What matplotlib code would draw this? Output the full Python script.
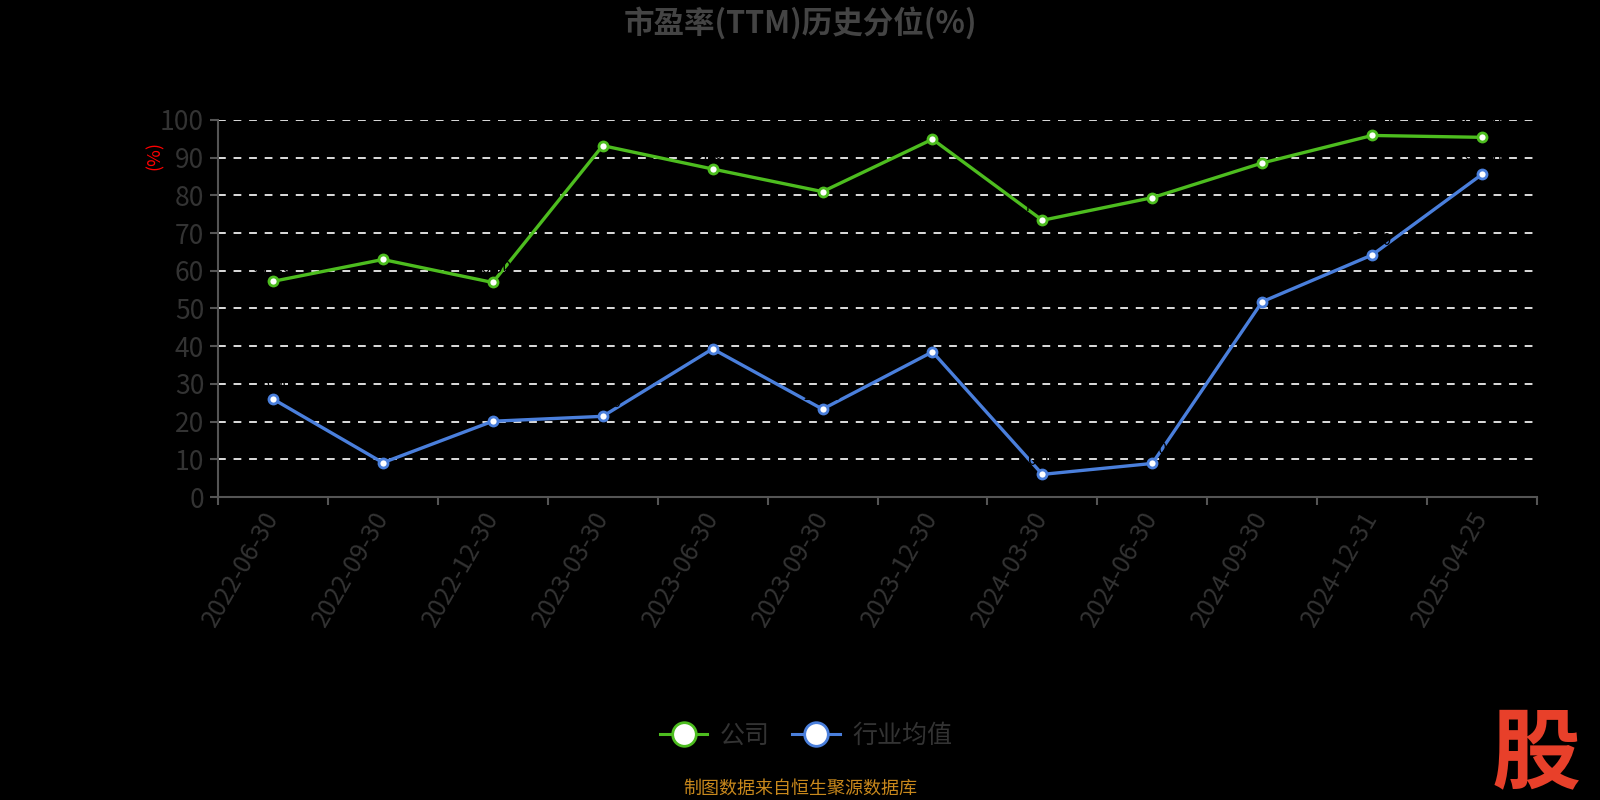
import matplotlib
matplotlib.use('Agg')
import matplotlib.pyplot as plt
import matplotlib.transforms as mtransforms
from matplotlib.lines import Line2D
import numpy as np

plt.rcParams['font.family'] = ['Noto Sans CJK SC', 'DejaVu Sans']

dates = ['2022-06-30', '2022-09-30', '2022-12-30', '2023-03-30', '2023-06-30', '2023-09-30',
         '2023-12-30', '2024-03-30', '2024-06-30', '2024-09-30', '2024-12-31', '2025-04-25']
company = [57.2, 63.0, 56.9, 93.2, 87.0, 81.0, 94.9, 73.4, 79.4, 88.6, 95.9, 95.4]
industry = [26.0, 9.1, 20.1, 21.4, 39.3, 23.3, 38.5, 6.0, 8.9, 51.8, 64.2, 85.6]
series_names = ['公司', '行业均值']

green = '#4dbd1f'
blue = '#4a7fdc'

fig = plt.figure(figsize=(16, 8), dpi=100, facecolor='black')
ax = fig.add_axes([218 / 1600, 1 - 497 / 800, (1537 - 218) / 1600, (497 - 120) / 800])
ax.set_facecolor('black')

x = np.arange(len(dates))
for vals, col in [(company, green), (industry, blue)]:
    ax.plot(x, vals, color=col, lw=2.4, marker='o', markersize=6.5,
            markerfacecolor='white', markeredgecolor=col, markeredgewidth=2, zorder=3)
    for xi, v in zip(x, vals):
        ax.text(xi, v + 1.5, '%.2f' % v, color='black', fontsize=11, ha='center', va='bottom', zorder=4)

ax.set_xlim(-0.5, len(dates) - 0.5)
ax.set_ylim(0, 100)
ax.set_yticks(np.arange(0, 101, 10))
ax.yaxis.grid(True, color='#dddddd', ls=(0, (4, 4)), lw=1.4)
ax.set_axisbelow(True)

ax.set_xticks(x)
ax.set_xticklabels(dates, rotation=60, ha='right', va='center', rotation_mode='anchor',
                   color='#333333', fontsize=18)
shift = mtransforms.ScaledTranslation(-12 / 100, 0, fig.dpi_scale_trans)
for lab in ax.get_xticklabels():
    lab.set_transform(lab.get_transform() + shift)
ax.set_xticks(np.arange(-0.5, len(dates), 1), minor=True)
ax.tick_params(axis='x', which='major', length=0, pad=12)
ax.tick_params(axis='x', which='minor', length=6, color='#555555', width=1.5)
ax.tick_params(axis='y', length=6, color='#555555', width=1.5, labelcolor='#333333', labelsize=19, pad=4)

for s in ['top', 'right']:
    ax.spines[s].set_visible(False)
for s in ['left', 'bottom']:
    ax.spines[s].set_color('#555555')
    ax.spines[s].set_linewidth(1.5)

fig.text(155 / 1600, 1 - 155 / 800, '(%)', color='red', rotation=90, fontsize=13, ha='center', va='center')
fig.text(800 / 1600, 1 - 23 / 800, '市盈率(TTM)历史分位(%)', color='#444444', fontsize=22,
         fontweight='bold', ha='center', va='center')

handles = [Line2D([0], [0], color=c, lw=2.2, marker='o', markersize=17, markerfacecolor='white',
                  markeredgecolor=c, markeredgewidth=2) for c in (green, blue)]
leg = fig.legend(handles, series_names, loc='center', bbox_to_anchor=(806 / 1600, 1 - 736 / 800), ncol=2,
                 frameon=False, fontsize=18, labelcolor='#333333', handlelength=1.9, columnspacing=0.9,
                 handletextpad=0.5)

fig.text(800 / 1600, 1 - 789 / 800, '制图数据来自恒生聚源数据库', color='#c8881c', fontsize=13,
         ha='center', va='center')
fig.text(1536 / 1600, 1 - 755 / 800, '股', color='#e8402a', fontsize=64, fontweight='bold',
         style='italic', ha='center', va='center')

fig.savefig('out.png', dpi=100, facecolor='black')
